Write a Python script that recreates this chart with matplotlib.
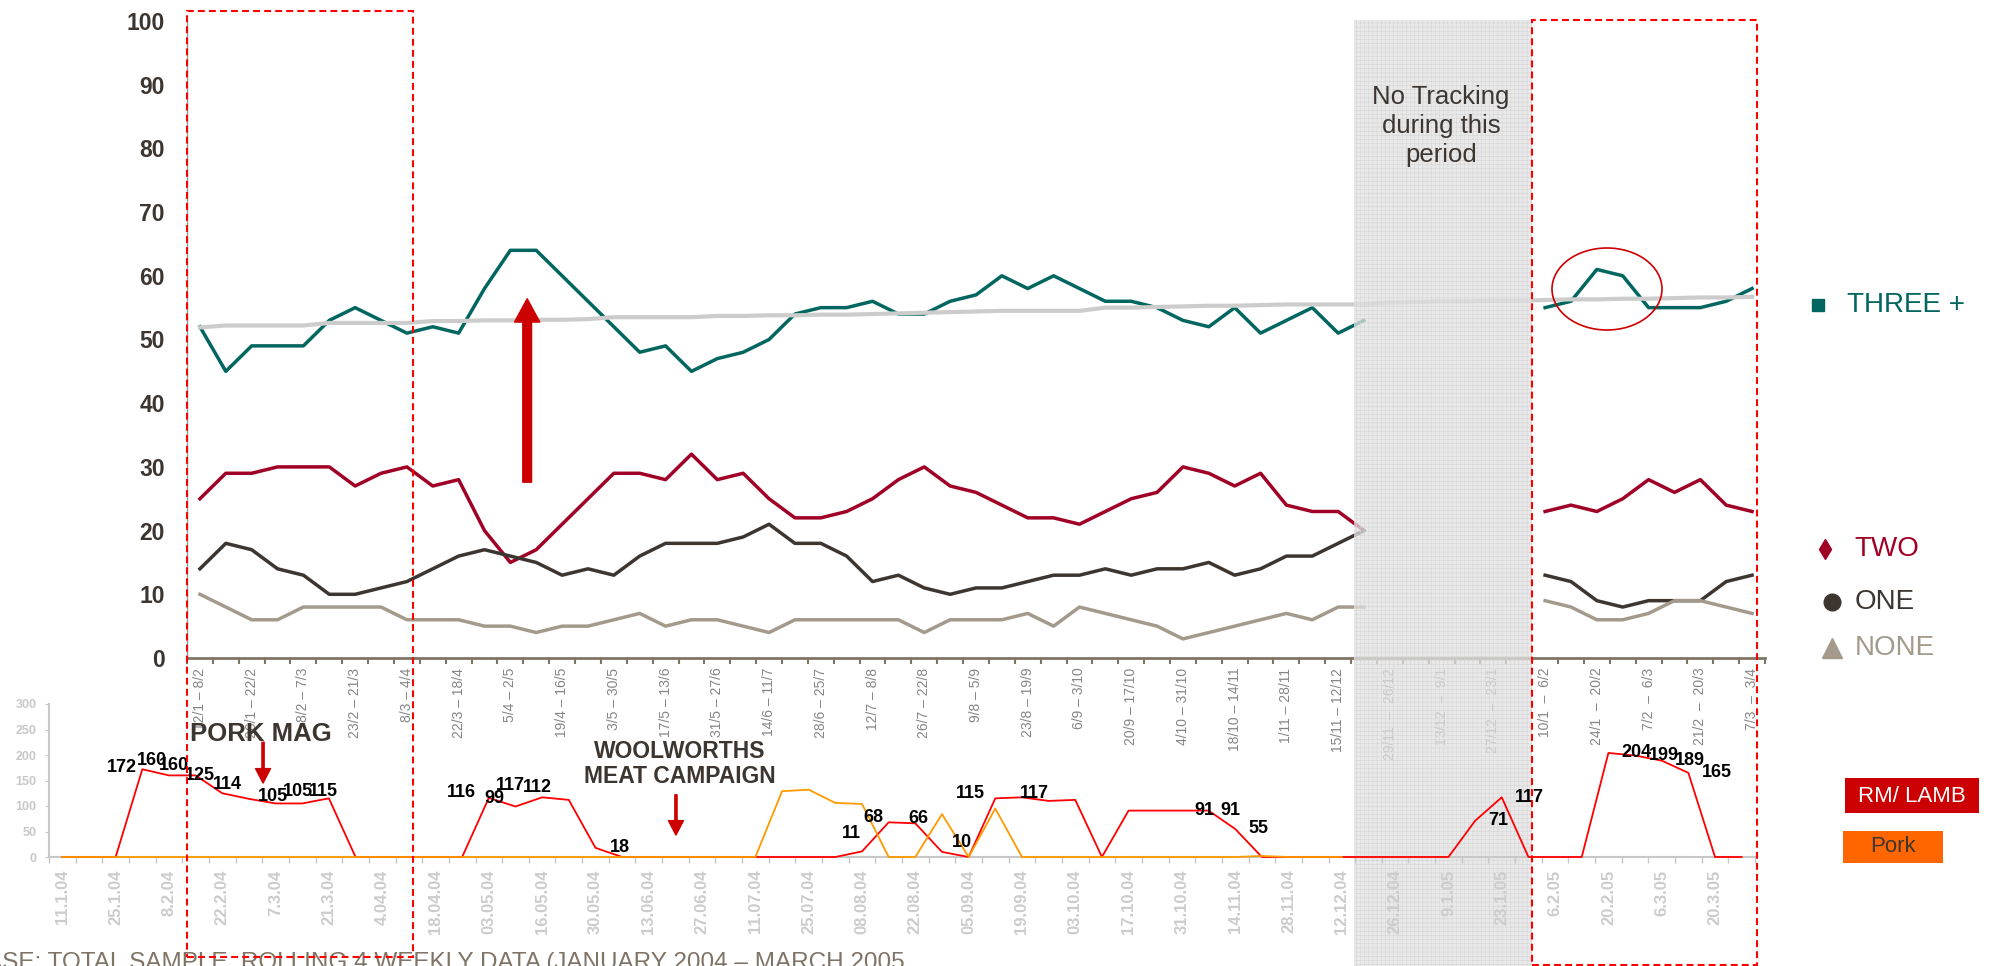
import numpy as np
import matplotlib
matplotlib.use("Agg")
import matplotlib.pyplot as plt
from matplotlib.patches import Rectangle, Ellipse
from matplotlib.lines import Line2D

plt.rcParams['font.family'] = ['Liberation Sans', 'DejaVu Sans']
plt.rcParams['hatch.linewidth'] = 0.4

nan = np.nan

# ---- top panel: share of shoppers by number of red-meat serves (%) ----
week_labels = ['12/1 – 8/2', '26/1 – 22/2', '8/2 – 7/3', '23/2 – 21/3', '8/3 – 4/4',
               '22/3 – 18/4', '5/4 – 2/5', '19/4 – 16/5', '3/5 – 30/5', '17/5 – 13/6',
               '31/5 – 27/6', '14/6 – 11/7', '28/6 – 25/7', '12/7 – 8/8', '26/7 – 22/8',
               '9/8 – 5/9', '23/8 – 19/9', '6/9 – 3/10', '20/9 – 17/10', '4/10 – 31/10',
               '18/10 – 14/11', '1/11 – 28/11', '15/11 – 12/12', '29/11  –  26/12',
               '13/12  –  9/1', '27/12  –  23/1', '10/1  –  6/2', '24/1  –  20/2',
               '7/2  –  6/3', '21/2  –  20/3', '7/3  –  3/4']

three_plus = [52, 45, 49, 49, 49, 53, 55, 53, 51, 52, 51, 58, 64, 64, 60, 56, 52, 48, 49, 45, 47, 48, 50, 54,
              55, 55, 56, 54, 54, 56, 57, 60, 58, 60, 58, 56, 56, 55, 53, 52, 55, 51, 53, 55, 51, 53,
              nan, nan, nan, nan, nan, nan,
              55, 56, 61, 60, 55, 55, 55, 56, 58]
two = [25, 29, 29, 30, 30, 30, 27, 29, 30, 27, 28, 20, 15, 17, 21, 25, 29, 29, 28, 32, 28, 29, 25, 22,
       22, 23, 25, 28, 30, 27, 26, 24, 22, 22, 21, 23, 25, 26, 30, 29, 27, 29, 24, 23, 23, 20,
       nan, nan, nan, nan, nan, nan,
       23, 24, 23, 25, 28, 26, 28, 24, 23]
one = [14, 18, 17, 14, 13, 10, 10, 11, 12, 14, 16, 17, 16, 15, 13, 14, 13, 16, 18, 18, 18, 19, 21, 18,
       18, 16, 12, 13, 11, 10, 11, 11, 12, 13, 13, 14, 13, 14, 14, 15, 13, 14, 16, 16, 18, 20,
       nan, nan, nan, nan, nan, nan,
       13, 12, 9, 8, 9, 9, 9, 12, 13]
none = [10, 8, 6, 6, 8, 8, 8, 8, 6, 6, 6, 5, 5, 4, 5, 5, 6, 7, 5, 6, 6, 5, 4, 6,
        6, 6, 6, 6, 4, 6, 6, 6, 7, 5, 8, 7, 6, 5, 3, 4, 5, 6, 7, 6, 8, 8,
        nan, nan, nan, nan, nan, nan,
        9, 8, 6, 6, 7, 9, 9, 8, 7]
three_plus_trend = [51.9, 52.2, 52.2, 52.2, 52.2, 52.6, 52.6, 52.6, 52.6, 52.9, 52.9, 53.0, 53.0, 53.1,
                    53.1, 53.2, 53.5, 53.5, 53.5, 53.5, 53.7, 53.7, 53.8, 53.8, 53.9, 53.9, 54.0, 54.1,
                    54.2, 54.3, 54.4, 54.5, 54.5, 54.5, 54.5, 55.0, 55.0, 55.1, 55.2, 55.3, 55.3, 55.4,
                    55.5, 55.5, 55.5, 55.5, 55.8, 55.9, 56.0, 56.0, 56.1, 56.1, 56.2, 56.3, 56.3, 56.4,
                    56.4, 56.5, 56.6, 56.6, 56.7]

# ---- bottom panel: advertising weight ----
ad_dates = ['11.1.04', '25.1.04', '8.2.04', '22.2.04', '7.3.04', '21.3.04', '4.04.04', '18.04.04',
            '03.05.04', '16.05.04', '30.05.04', '13.06.04', '27.06.04', '11.07.04', '25.07.04',
            '08.08.04', '22.08.04', '05.09.04', '19.09.04', '03.10.04', '17.10.04', '31.10.04',
            '14.11.04', '28.11.04', '12.12.04', '26.12.04', '9.1.05', '23.1.05', '6.2.05',
            '20.2.05', '6.3.05', '20.3.05']
rm_lamb = [0, 0, 0, 172, 160, 160, 125, 114, 105, 105, 115, 0, 0, 0, 0, 0,
           116, 99, 117, 112, 18, 0, 0, 0, 0, 0, 0, 0, 0, 0, 11, 68,
           66, 10, 0, 115, 117, 110, 112, 0, 91, 91, 91, 91, 55, 0, 0, 0,
           0, 0, 0, 0, 0, 71, 117, 0, 0, 0, 204, 199, 189, 165, 0, 0]
pork = [0, 0, 0, 0, 0, 0, 0, 0, 0, 0, 0, 0, 0, 0, 0, 0,
        0, 0, 0, 0, 0, 0, 0, 0, 0, 0, 0, 129, 132, 106, 104, 0,
        0, 84, 0, 95, 0, 0, 0, 0, 0, 0, 0, 0, 0, 2, 0, 0, 0]
labelled_weeks = [3, 4, 5, 6, 7, 8, 9, 10, 16, 17, 18, 19, 20, 30, 31, 32, 33, 35, 36,
                  42, 43, 44, 53, 54, 58, 59, 60, 61]

# label nudges in pixels (right, down)
label_nudge = {3: (-20, -2), 4: (-17, -15), 5: (-22, -10), 6: (-22, -18), 7: (-22, -14),
               8: (-3, -7), 9: (-4, -12), 10: (-6, -7), 16: (-27, -5), 17: (-21, -8),
               18: (-32, -12), 19: (-31, -12), 20: (24, 0), 30: (-11, -18), 31: (-15, -5),
               32: (3, -5), 33: (20, -9), 35: (-25, -5), 36: (12, -4), 42: (22, 0),
               43: (22, 0), 44: (23, 0), 53: (23, 0), 54: (28, 0), 58: (28, 0),
               59: (29, 0), 60: (28, 0), 61: (29, 0)}

W, H = 1993, 966


def fx(x):
    return x / W


def fy(y):
    return 1 - y / H


TEAL = '#00665f'
CRIMSON = '#a00025'
DARK = '#3d3530'
TAUPE = '#a39a8c'
AXIS_BROWN = '#7f7566'
PALE = '#c8c8c8'

fig = plt.figure(figsize=(W / 100, H / 100), dpi=100)
fig.patch.set_facecolor('white')

# top panel
ax = fig.add_axes([fx(187), fy(658), (1765 - 187) / W, (658 - 21) / H])
ax.set_zorder(0)
weeks = np.arange(len(three_plus))
ax.plot(weeks, three_plus, color=TEAL, lw=2.5)
ax.plot(weeks, two, color=CRIMSON, lw=2.5)
ax.plot(weeks, one, color=DARK, lw=2.5)
ax.plot(weeks, none, color=TAUPE, lw=2.5)
ax.plot(weeks, three_plus_trend, color='#cccccc', lw=3)
ax.set_xlim(-0.5, len(weeks) - 0.5)
ax.set_ylim(0, 100)
ax.set_yticks(range(0, 101, 10))
ax.tick_params(axis='y', length=0, pad=16, labelsize=16.5, labelcolor=DARK)
for t in ax.get_yticklabels():
    t.set_fontweight('bold')
ax.set_xticks(weeks[::2])
ax.set_xticklabels(week_labels, rotation=90, fontsize=10, color='#858585', va='top')
ax.set_xticks(np.arange(-0.5, len(weeks)), minor=True)
ax.tick_params(axis='x', which='major', length=0, pad=7)
ax.tick_params(axis='x', which='minor', length=4, width=1.5, color=AXIS_BROWN, direction='out')
for side in ('top', 'right'):
    ax.spines[side].set_visible(False)
ax.spines['left'].set_color('#9a9a9a')
ax.spines['left'].set_linewidth(1)
ax.spines['bottom'].set_color(AXIS_BROWN)
ax.spines['bottom'].set_linewidth(2)
ax.annotate('', xy=(12.65, 56.4), xytext=(12.65, 27.6),
            arrowprops=dict(arrowstyle='simple,head_width=1.3,head_length=1.2,tail_width=0.45',
                            mutation_scale=14, color='#cc0000', shrinkA=0, shrinkB=0))

# bottom panel
ax2 = fig.add_axes([fx(49), fy(857), (1755 - 49) / W, (857 - 704) / H])
ax2.set_zorder(2)
ax2.patch.set_visible(False)
ad_weeks = np.arange(len(rm_lamb))
ax2.plot(ad_weeks, rm_lamb, color='#ff0000', lw=1.3, zorder=3, clip_on=False)
ax2.plot(ad_weeks[:len(pork)], pork, color='#ff9900', lw=1.3, zorder=3.5, clip_on=False)
ax2.set_xlim(-0.5, len(ad_weeks) - 0.5)
ax2.set_ylim(0, 300)
ax2.set_yticks(range(0, 301, 50))
ax2.tick_params(axis='y', length=3, color=PALE, pad=6, labelsize=9, labelcolor=PALE)
for t in ax2.get_yticklabels():
    t.set_fontweight('bold')
ax2.set_xticks(ad_weeks[::2])
ax2.set_xticklabels(ad_dates, rotation=90, fontsize=12, color='#cccccc', fontweight='bold', va='top')
ax2.set_xticks(np.arange(-0.5, len(ad_weeks)), minor=True)
ax2.tick_params(axis='x', which='major', length=0, pad=9)
ax2.tick_params(axis='x', which='minor', length=4, width=1, color=PALE, direction='out')
for side in ('top', 'right'):
    ax2.spines[side].set_visible(False)
for side in ('left', 'bottom'):
    ax2.spines[side].set_color(PALE)
    ax2.spines[side].set_linewidth(1.5)

for k in labelled_weeks:
    dx, dy = label_nudge[k]
    ax2.annotate(str(rm_lamb[k]), (k, rm_lamb[k]), xytext=(dx * 0.72, -dy * 0.72),
                 textcoords='offset points', ha='center', va='center',
                 fontsize=13, fontweight='bold', color='black', zorder=6)

ax2.annotate('', xy=(7.53, 145), xytext=(7.53, 225), annotation_clip=False,
             arrowprops=dict(arrowstyle='simple,head_width=1.35,head_length=1.3,tail_width=0.2',
                             mutation_scale=8, color='#cc0000', shrinkA=0, shrinkB=0))
ax2.annotate('', xy=(23.02, 43), xytext=(23.02, 122), annotation_clip=False,
             arrowprops=dict(arrowstyle='simple,head_width=1.35,head_length=1.3,tail_width=0.2',
                             mutation_scale=8, color='#cc0000', shrinkA=0, shrinkB=0))

# untracked period
fig.add_artist(Rectangle((fx(1354), fy(966)), (1532 - 1354) / W, (966 - 20) / H,
                         transform=fig.transFigure, facecolor='#e2e2e2', edgecolor='#cfcfcf',
                         hatch='++++', lw=0, alpha=0.75, zorder=1))
fig.text(fx(1441), fy(126), 'No Tracking\nduring this\nperiod', ha='center', va='center',
         fontsize=18.5, color=DARK, linespacing=1.25, zorder=5)

# campaign windows
for x0, y0, x1, y1 in [(187, 11, 413, 957), (1532, 20, 1757, 965)]:
    fig.add_artist(Rectangle((fx(x0), fy(y1)), (x1 - x0) / W, (y1 - y0) / H,
                             transform=fig.transFigure, fill=False, edgecolor='#ff0000',
                             lw=1.5, linestyle=(0, (3.3, 2)), zorder=4))
fig.add_artist(Ellipse((fx(1607), fy(289)), 110 / W, 82 / H, transform=fig.transFigure,
                       fill=False, edgecolor='#cc0000', lw=1.2, zorder=4))

fig.text(fx(190), fy(734), 'PORK MAG', ha='left', va='center', fontsize=18.5,
         fontweight='bold', color=DARK, zorder=5)
fig.text(fx(680), fy(764), 'WOOLWORTHS\nMEAT CAMPAIGN', ha='center', va='center',
         fontsize=16.5, fontweight='bold', color=DARK, linespacing=1.1, zorder=5)

# series key, top panel
key = [('THREE +', TEAL, 's', 9, 1818, 1847, 305),
       ('TWO', CRIMSON, 'd', 10.2, 1825, 1854, 549),
       ('ONE', DARK, 'o', 12, 1832, 1855, 602),
       ('NONE', TAUPE, '^', 14, 1832, 1855, 648)]
for name, col, mk, ms, mx, tx, y in key:
    fig.add_artist(Line2D([fx(mx)], [fy(y)], marker=mk, markersize=ms, color=col,
                          linestyle='none', transform=fig.transFigure))
    fig.text(fx(tx), fy(y), name, ha='left', va='center', fontsize=20, color=col)

# series key, bottom panel
fig.add_artist(Rectangle((fx(1845), fy(813)), 134 / W, 35 / H, transform=fig.transFigure,
                         facecolor='#cc0000', lw=0))
fig.text(fx(1912), fy(796), 'RM/ LAMB', ha='center', va='center', fontsize=16, color='white')
fig.add_artist(Rectangle((fx(1843), fy(863)), 100 / W, 32 / H, transform=fig.transFigure,
                         facecolor='#ff6600', lw=0))
fig.text(fx(1893), fy(847), 'Pork', ha='center', va='center', fontsize=16, color=DARK)

fig.text(fx(905), fy(969), 'BASE: TOTAL SAMPLE, ROLLING 4 WEEKLY DATA (JANUARY 2004 – MARCH 2005',
         ha='right', va='baseline', fontsize=17.5, color='#7f7466')

fig.savefig('out.png', dpi=100, facecolor='white')
